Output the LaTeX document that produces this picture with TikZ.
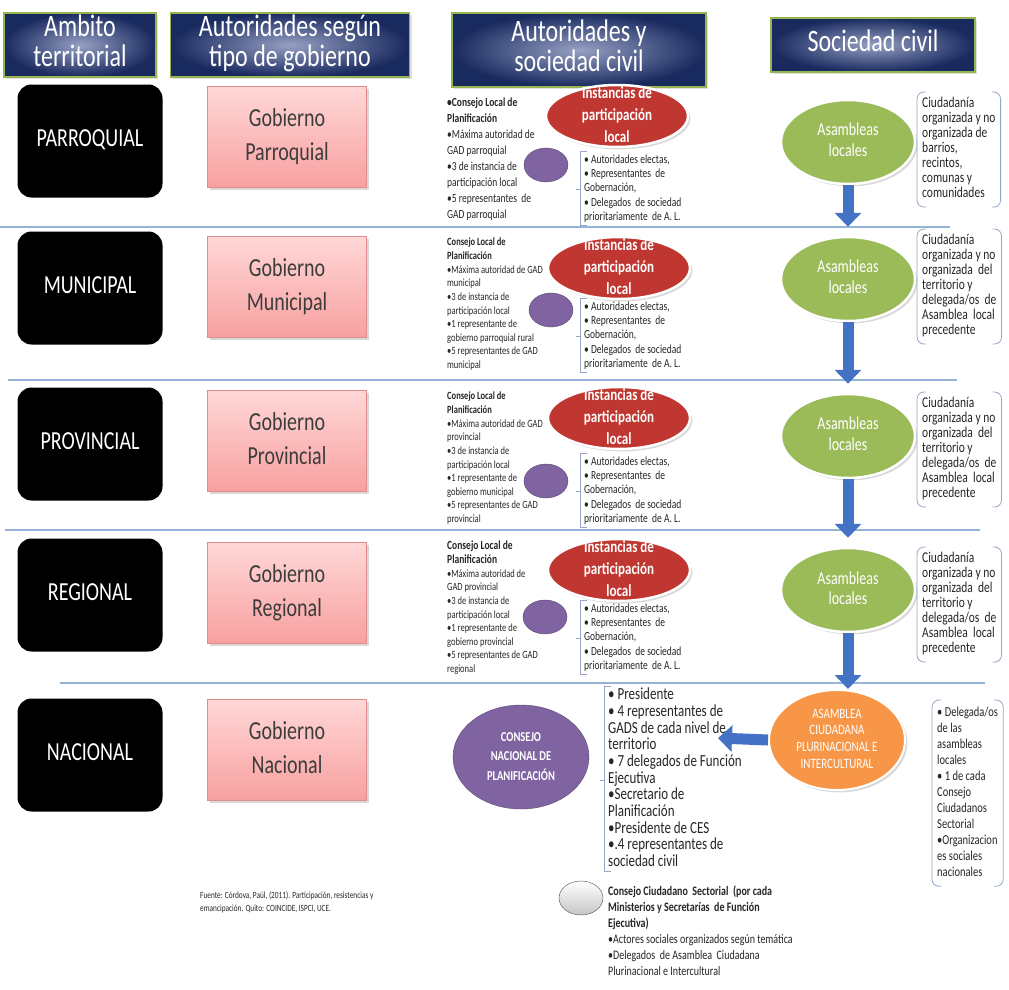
\documentclass[tikz,border=0pt]{standalone}
\usepackage{fontspec}
\setmainfont{Carlito}
\usepackage{graphicx}
\usetikzlibrary{positioning,shapes.geometric,arrows.meta,shadows}
\definecolor{navy}{RGB}{25,42,95}
\definecolor{navylt}{RGB}{150,160,195}
\definecolor{hdgreen}{RGB}{150,180,80}
\definecolor{pinktop}{RGB}{255,215,215}
\definecolor{pinkbot}{RGB}{248,160,160}
\definecolor{pinkline}{RGB}{225,140,140}
\definecolor{instred}{RGB}{192,55,50}
\definecolor{cnlpurple}{RGB}{128,100,162}
\definecolor{asgreen}{RGB}{155,187,89}
\definecolor{acorange}{RGB}{247,150,70}
\definecolor{sepblue}{RGB}{149,179,215}
\definecolor{arrblue}{RGB}{68,114,196}
\definecolor{brkgray}{RGB}{150,165,200}
\definecolor{txtgray}{RGB}{60,60,60}

% text is drawn a bit taller than wide, as on the slide
\newcommand{\stretchtxt}[2][c]{\scalebox{1}[1.3]{\begin{tabular}{@{}#1@{}}#2\end{tabular}}}
\newcommand{\autlist}{• Autoridades electas,\\• Representantes \ de\\Gobernación,\\• Delegados \ de sociedad\\prioritariamente \ de A. L.}
\newcommand{\ciudlist}{Ciudadanía\\organizada y no\\organizada \ del\\territorio y\\delegada/os \ de\\Asamblea \ local\\precedente}
\newcommand{\lbrk}[1]{\draw[brk] ([xshift=3pt,yshift=2pt]#1.north west) -- ([xshift=-4pt,yshift=2pt]#1.north west) -- ([xshift=-4pt]#1.south west) -- ([xshift=3pt]#1.south west);
  \draw[brk] ([xshift=-4pt]#1.west) -- ([xshift=-8pt]#1.west);}
\newcommand{\paren}[1]{\draw[brk, rounded corners=7pt] ([xshift=4pt,yshift=5pt]#1.north west) -- ([xshift=-5pt,yshift=5pt]#1.north west) -- ([xshift=-5pt,yshift=-5pt]#1.south west) -- ([xshift=4pt,yshift=-5pt]#1.south west);
  \draw[brk, rounded corners=7pt] ([xshift=-4pt,yshift=5pt]#1.north east) -- ([xshift=5pt,yshift=5pt]#1.north east) -- ([xshift=5pt,yshift=-5pt]#1.south east) -- ([xshift=-4pt,yshift=-5pt]#1.south east);}

\begin{document}
\begin{tikzpicture}[x=1pt,y=-1pt,
  head/.style={rectangle, draw=hdgreen, line width=1.5pt, inner color=navylt, outer color=navy, text=white, inner sep=1pt, font=\fontsize{24}{23}\selectfont, drop shadow={opacity=.25}},
  lvl/.style={rectangle, rounded corners=14pt, fill=black, text=white, minimum width=145, minimum height=113, font=\fontsize{20}{22}\selectfont},
  gob/.style={rectangle, draw=pinkline, top color=pinktop, bottom color=pinkbot, text=txtgray, minimum width=159, minimum height=101, font=\fontsize{20}{26}\selectfont, drop shadow={opacity=.3}},
  inst/.style={ellipse, fill=instred, draw=white, line width=2.5pt, minimum width=142, minimum height=62, drop shadow={opacity=.3},
    label={[text=white, font=\bfseries\fontsize{13}{17}\selectfont]center:\stretchtxt{Instancias de\\participación\\local}}},
  cnl/.style={ellipse, fill=cnlpurple, draw=cnlpurple!70!black, minimum width=44, minimum height=34},
  asam/.style={ellipse, fill=asgreen, draw=white, line width=2.5pt, minimum width=134, minimum height=84, text=white, font=\fontsize{14}{15.4}\selectfont, drop shadow={opacity=.3}},
  list/.style={anchor=north west, inner sep=0pt, text=black!85},
  flow/.style={-{Triangle[width=26pt,length=14pt]}, line width=11pt, arrblue},
  sep/.style={sepblue, line width=1.2pt},
  brk/.style={brkgray, line width=.8pt},
  ]
  \fill[white] (0,0) rectangle (1009,990);
  \useasboundingbox (0,0) rectangle (1009,990);

  % headers
  \node[head, minimum width=152, minimum height=64] (hAmb) at (80,45) {\stretchtxt{Ambito\\territorial}};
  \node[head, minimum width=239, minimum height=64] (hAut) at (290,45) {\stretchtxt{Autoridades según\\tipo de gobierno}};
  \node[head, minimum width=254, minimum height=74] (hSoc) at (579,50) {\stretchtxt{Autoridades y\\sociedad civil}};
  \node[head, minimum width=204, minimum height=54] (hCiv) at (873,45) {\stretchtxt{Sociedad civil}};

  % row separators
  \draw[sep] (0,227) -- (950,227);
  \draw[sep] (8,380) -- (957,380);
  \draw[sep] (5,530) -- (980,530);
  \draw[sep] (60,683) -- (985,683);

  % territorial levels
  \node[lvl] (lParr) at (90,141) {\stretchtxt{PARROQUIAL}};
  \node[lvl] (lMun)  at (90,288) {\stretchtxt{MUNICIPAL}};
  \node[lvl] (lProv) at (90,444) {\stretchtxt{PROVINCIAL}};
  \node[lvl] (lReg)  at (90,595) {\stretchtxt{REGIONAL}};
  \node[lvl] (lNac)  at (90,755) {\stretchtxt{NACIONAL}};

  \node[gob] (gParr) at (287,137) {\stretchtxt{Gobierno\\Parroquial}};
  \node[gob] (gMun)  at (287,287) {\stretchtxt{Gobierno\\Municipal}};
  \node[gob] (gProv) at (287,441) {\stretchtxt{Gobierno\\Provincial}};
  \node[gob] (gReg)  at (287,593) {\stretchtxt{Gobierno\\Regional}};
  \node[gob] (gNac)  at (287,750) {\stretchtxt{Gobierno\\Nacional}};

  % local councils
  \node[list, font=\fontsize{9.5}{12.3}\selectfont] (cParr) at (447,95) {\stretchtxt[l]{\textbf{•Consejo Local de}\\\textbf{Planificación}\\•Máxima autoridad de\\GAD parroquial\\•3 de instancia de\\participación local\\•5 representantes \ de\\GAD parroquial}};
  \node[list, font=\fontsize{8.5}{10.5}\selectfont] (cMun) at (447,236) {\stretchtxt[l]{\textbf{Consejo Local de}\\\textbf{Planificación}\\•Máxima autoridad de GAD\\municipal\\•3 de instancia de\\participación local\\•1 representante de\\gobierno parroquial rural\\•5 representantes de GAD\\municipal}};
  \node[list, font=\fontsize{8.5}{10.5}\selectfont] (cProv) at (447,390) {\stretchtxt[l]{\textbf{Consejo Local de}\\\textbf{Planificación}\\•Máxima autoridad de GAD\\provincial\\•3 de instancia de\\participación local\\•1 representante de\\gobierno municipal\\•5 representantes de GAD\\provincial}};
  \node[list, font=\fontsize{8.5}{10.5}\selectfont] (cReg) at (447,540) {\stretchtxt[l]{\textbf{\fontsize{9.5}{10.5}\selectfont Consejo Local de}\\\textbf{\fontsize{9.5}{10.5}\selectfont Planificación}\\•Máxima autoridad de\\GAD provincial\\•3 de instancia de\\participación local\\•1 representante de\\gobierno provincial\\•5 representantes de GAD\\regional}};

  \node[inst] (iParr) at (617,116) {};
  \node[inst] (iMun)  at (619,268) {};
  \node[inst] (iProv) at (619,418) {};
  \node[inst] (iReg)  at (619,570) {};

  \node[cnl] (pParr) at (546,165) {};
  \node[cnl] (pMun)  at (551,310) {};
  \node[cnl] (pProv) at (546,481) {};
  \node[cnl] (pReg)  at (545,617) {};

  \node[list, font=\fontsize{9.5}{11}\selectfont] (aParr) at (584,153) {\stretchtxt[l]{\autlist}};
  \node[list, font=\fontsize{9.5}{11}\selectfont] (aMun)  at (584,300) {\stretchtxt[l]{\autlist}};
  \node[list, font=\fontsize{9.5}{11}\selectfont] (aProv) at (584,455) {\stretchtxt[l]{\autlist}};
  \node[list, font=\fontsize{9.5}{11}\selectfont] (aReg)  at (584,602) {\stretchtxt[l]{\autlist}};
  \lbrk{aParr} \lbrk{aMun} \lbrk{aProv} \lbrk{aReg}

  % civil society
  \node[asam] (asParr) at (848,142) {\stretchtxt{Asambleas\\locales}};
  \node[asam] (asMun)  at (848,279) {\stretchtxt{Asambleas\\locales}};
  \node[asam] (asProv) at (848,436) {\stretchtxt{Asambleas\\locales}};
  \node[asam] (asReg)  at (848,590) {\stretchtxt{Asambleas\\locales}};
  \node[ellipse, fill=acorange, draw=white, line width=2pt, minimum width=136, minimum height=100, inner sep=0pt, text=white, font=\fontsize{11}{13}\selectfont, drop shadow={opacity=.3}] (asNac) at (837,740) {\stretchtxt{ASAMBLEA\\CIUDADANA\\PLURINACIONAL E\\INTERCULTURAL}};

  \draw[flow, shorten >=9pt] (asParr) -- (asMun);
  \draw[flow, shorten >=9pt] (asMun) -- (asProv);
  \draw[flow, shorten >=9pt] (asProv) -- (asReg);
  \draw[flow] (asReg.south) -- (asReg.south |- asNac.north);

  \node[list, font=\fontsize{11.5}{11.5}\selectfont] (sParr) at (922,97) {\stretchtxt[l]{Ciudadanía\\organizada y no\\organizada de\\barrios,\\recintos,\\comunas y\\comunidades}};
  \node[list, font=\fontsize{11.5}{11.5}\selectfont] (sMun)  at (922,234) {\stretchtxt[l]{\ciudlist}};
  \node[list, font=\fontsize{11.5}{11.5}\selectfont] (sProv) at (922,397) {\stretchtxt[l]{\ciudlist}};
  \node[list, font=\fontsize{11.5}{11.5}\selectfont] (sReg)  at (922,552) {\stretchtxt[l]{\ciudlist}};
  \paren{sParr} \paren{sMun} \paren{sProv} \paren{sReg}

  % national level
  \node[ellipse, fill=cnlpurple, draw=cnlpurple!70!black, minimum width=136, minimum height=104, text=white, font=\bfseries\fontsize{10.5}{15}\selectfont] (cnp) at (521,757) {\stretchtxt{CONSEJO\\NACIONAL DE\\PLANIFICACIÓN}};
  \node[list, font=\fontsize{13}{12.7}\selectfont] (nList) at (608,688) {\stretchtxt[l]{• Presidente\\• 4 representantes de\\GADS de cada nivel de\\territorio\\• 7 delegados de Función\\Ejecutiva\\•Secretario de\\Planificación\\•Presidente de CES\\•.4 representantes de\\sociedad civil}};
  \lbrk{nList}
  \coordinate (nTip) at (718,738);
  \draw[flow] (asNac.west) -- (nTip);

  \node[list, font=\fontsize{10.5}{12.3}\selectfont] (nSoc) at (937,705) {\stretchtxt[l]{• Delegada/os\\de las\\asambleas\\locales\\• 1 de cada\\Consejo\\Ciudadanos\\Sectorial\\•Organizacion\\es sociales\\nacionales}};
  \paren{nSoc}

  \node[ellipse, draw=gray!60!black, top color=white, bottom color=gray!45, minimum width=44, minimum height=34] (ccs) at (581,898) {};
  \node[list, font=\fontsize{10}{12.3}\selectfont] (ccsText) at (608,884) {\stretchtxt[l]{\textbf{Consejo Ciudadano \ Sectorial \ (por cada}\\\textbf{Ministerios y Secretarías \ de Función}\\\textbf{Ejecutiva)}\\•Actores sociales organizados según temática\\•Delegados \ de Asamblea \ Ciudadana\\Plurinacional e Intercultural}};

  \node[list, font=\fontsize{7.3}{9.5}\selectfont] (src) at (200,890) {\stretchtxt[l]{Fuente: Córdova, Paúl, (2011). Participación, resistencias y\\emancipación. Quito: COINCIDE, ISPCI, UCE.}};
\end{tikzpicture}
\end{document}
